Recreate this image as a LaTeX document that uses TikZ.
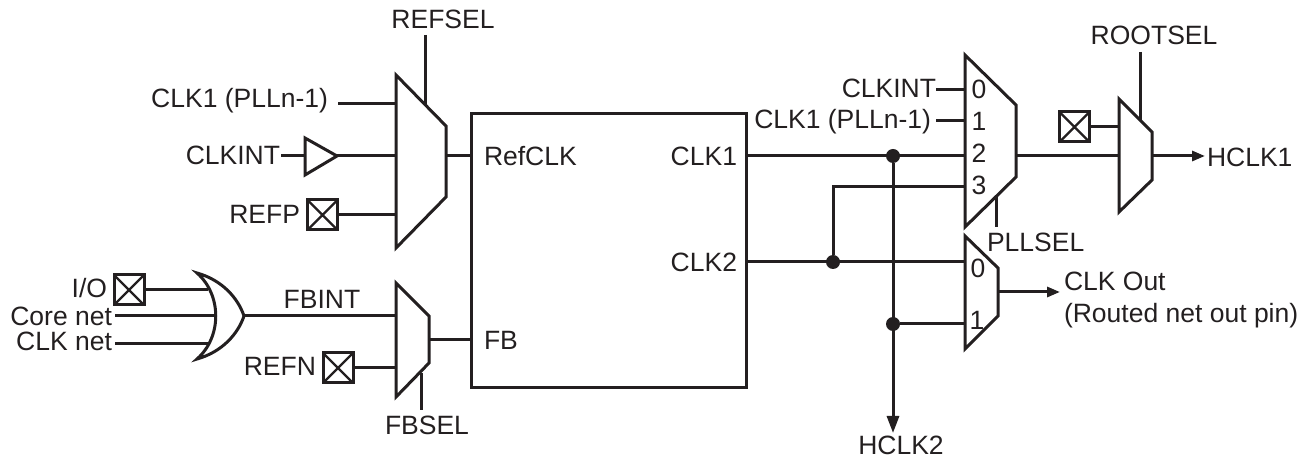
\documentclass[tikz,border=0pt]{standalone}
\usepackage{fontspec}
\setmainfont{Liberation Sans}
\usetikzlibrary{arrows.meta,calc}
\definecolor{ink}{HTML}{231F20}
\tikzset{
  wire/.style={draw=ink,line width=1.5pt,line cap=butt},
  part/.style={draw=ink,line width=1.5pt,line join=miter,fill=white},
  lbl/.style={inner sep=0pt,outer sep=0pt,text=ink,font=\fontsize{13.25}{15}\selectfont,text height=9.5pt,text depth=0pt},
  padbox/.style={draw=ink,line width=1.5pt,fill=white,inner sep=0pt,outer sep=0pt,minimum width=15pt,minimum height=15pt,
    path picture={\draw[ink,line width=1.2pt] (path picture bounding box.north west)--(path picture bounding box.south east)
      (path picture bounding box.north east)--(path picture bounding box.south west);}},
  dotmark/.style={circle,fill=ink,inner sep=0pt,minimum size=7pt},
  arr/.style={-{Triangle[length=6.5pt,width=5pt]}},
  arrbig/.style={-{Triangle[length=8.5pt,width=6pt]}}
}
\begin{document}
\begin{tikzpicture}[x=0.5pt,y=-0.5pt]
\useasboundingbox (0,0) rectangle (1307,459);
% anchors for free wire ends and mux pins
\coordinate (selA) at (425.5,35);   \coordinate (selAm) at (425.5,104);
\coordinate (inA1s) at (338,104);   \coordinate (inA1) at (396,104);
\coordinate (inA2s) at (281,156);   \coordinate (inA2) at (396,156);
\coordinate (inA3) at (396,215);    \coordinate (outA) at (446,156);
\coordinate (fbIn1) at (396,316);   \coordinate (fbIn2) at (396,368);
\coordinate (outF) at (429,340);
\coordinate (selF) at (421,410);    \coordinate (selFm) at (421,373);
\coordinate (orOut) at (244,316);
\coordinate (coreS) at (115,316);   \coordinate (coreE) at (215,316);
\coordinate (clknS) at (115,344);   \coordinate (clknE) at (208,344);
\coordinate (ioE) at (208,290);
\coordinate (p0s) at (936,90);      \coordinate (p0) at (965,90);
\coordinate (p1s) at (936,121);     \coordinate (p1) at (965,121);
\coordinate (p2) at (965,156);      \coordinate (p3) at (965,187);
\coordinate (pOut) at (1016,156);   \coordinate (selP) at (996.5,227);
\coordinate (selPm) at (996.5,197);
\coordinate (c0) at (965,262);      \coordinate (c1) at (965,324);
\coordinate (cOut) at (998,292);    \coordinate (cEnd) at (1060,292);
\coordinate (r0) at (1119,127);     \coordinate (r1) at (1119,156);
\coordinate (rOut) at (1152,156);   \coordinate (rEnd) at (1205,156);
\coordinate (selR) at (1140,52);    \coordinate (selRm) at (1140,120);
\coordinate (h2End) at (893,433);

% main block and pads
\node[part,inner sep=0pt,outer sep=0pt,minimum width=137.5pt,minimum height=137pt] (main) at (608.5,251) {};
\node[padbox] (padP) at (322.5,215) {};
\node[padbox] (padIO) at (129,290) {};
\node[padbox] (padN) at (338,368) {};
\node[padbox] (padR) at (1074.5,127) {};
\node[dotmark] (j1) at (893,156) {};
\node[dotmark] (j2) at (833,262) {};
\node[dotmark] (j3) at (893,324) {};

% connectors
\draw[wire] (selA) -- (selAm);
\draw[wire] (inA1s) -- (inA1);
\draw[wire] (inA2s) -- (inA2);
\draw[wire] (padP.east) -- (inA3);
\draw[wire] (outA) -- (outA -| main.west);
\draw[wire] (outF) -- (outF -| main.west);
\draw[wire] (orOut) -- (fbIn1);
\draw[wire] (padN.east) -- (fbIn2);
\draw[wire] (selFm) -- (selF);
\draw[wire] (padIO.east) -- (ioE);
\draw[wire] (coreS) -- (coreE);
\draw[wire] (clknS) -- (clknE);
\draw[wire] (p0s) -- (p0);
\draw[wire] (p1s) -- (p1);
\draw[wire] (p2 -| main.east) -- (p2);
\draw[wire] (c0 -| main.east) -- (c0);
\draw[wire] (j2) -- (j2 |- p3) -- (p3);
\draw[wire] (j3) -- (c1);
\draw[wire,arrbig] (j1) -- (h2End);
\draw[wire] (selPm) -- (selP);
\draw[wire,arr] (cOut) -- (cEnd);
\draw[wire] (pOut) -- (r1);
\draw[wire] (padR.east) -- (r0);
\draw[wire,arr] (rOut) -- (rEnd);
\draw[wire] (selR) -- (selRm);

% muxes, buffer, OR gate
\draw[part] (396,75) -- (446,126) -- (446,197) -- (396,248) -- cycle;
\draw[part] (396,283) -- (429,316) -- (429,363) -- (396,397) -- cycle;
\draw[part] (965,55) -- (1016,105) -- (1016,177) -- (965,227) -- cycle;
\draw[part] (965,236) -- (998,268) -- (998,316) -- (965,349) -- cycle;
\draw[part] (1119,99) -- (1152,132) -- (1152,180) -- (1119,212) -- cycle;
\draw[part] (305,138) -- (337,156) -- (305,175) -- cycle;
\draw[part] (197,273) .. controls (222,280) and (238,298) .. (orOut)
  .. controls (238,334) and (222,352) .. (197,359)
  .. controls (222,337) and (222,295) .. (197,273) -- cycle;

% labels
\node[lbl] (tRefsel) at (443,19) {REFSEL};
\node[lbl,anchor=east] (tClkA) at (328,98) {CLK1 (PLLn-1)};
\node[lbl,anchor=east] (tIntA) at (280,155) {CLKINT};
\node[lbl,anchor=east] (tRefp) at (300,214) {REFP};
\node[lbl,anchor=east] (tIO) at (107,288) {I/O};
\node[lbl,anchor=east] (tCore) at (112,316) {Core net};
\node[lbl,anchor=east] (tClkn) at (112,341) {CLK net};
\node[lbl] (tFbint) at (322,299) {FBINT};
\node[lbl,anchor=east] (tRefn) at (316,366) {REFN};
\node[lbl] (tFbsel) at (427,425) {FBSEL};
\node[lbl,anchor=west] (tRefclk) at (484,156) {RefCLK};
\node[lbl,anchor=west] (tFb) at (484,340) {FB};
\node[lbl,anchor=east] (tC1) at (737,156) {CLK1};
\node[lbl,anchor=east] (tC2) at (737,262) {CLK2};
\node[lbl,anchor=east] (tIntB) at (936,88) {CLKINT};
\node[lbl,anchor=east] (tClkB) at (931,119) {CLK1 (PLLn-1)};
\node[lbl] (n0) at (979,89) {0};
\node[lbl] (n1) at (979,121) {1};
\node[lbl] (n2) at (979,153) {2};
\node[lbl] (n3) at (979,185) {3};
\node[lbl] (m0) at (978,268) {0};
\node[lbl] (m1) at (977,320) {1};
\node[lbl,anchor=west] (tPll) at (987,242) {PLLSEL};
\node[lbl] (tRoot) at (1154,35) {ROOTSEL};
\node[lbl,anchor=west] (tH1) at (1207,157) {HCLK1};
\node[lbl,anchor=west] (tOut) at (1064,281) {CLK Out};
\node[lbl,anchor=west] (tRouted) at (1064,313) {(Routed net out pin)};
\node[lbl] (tH2) at (901,445) {HCLK2};
\end{tikzpicture}
\end{document}
